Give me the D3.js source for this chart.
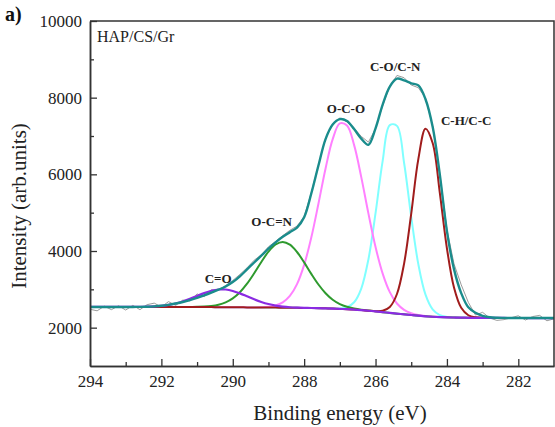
<!DOCTYPE html>
<html>
<head>
<meta charset="utf-8">
<script src="https://cdn.jsdelivr.net/npm/d3@7"></script>
<style>
  body { margin: 0; background: #fff; }
  svg { display: block; font-family: "Liberation Serif", "Times New Roman", serif; }
</style>
</head>
<body>
<svg></svg>
<script>
// binding energy grid (eV)
let energy = [294.0, 293.8, 293.6, 293.4, 293.2, 293.0, 292.8, 292.6, 292.4, 292.2,
  292.0, 291.8, 291.6, 291.4, 291.2, 291.0, 290.8, 290.6, 290.4, 290.2,
  290.0, 289.8, 289.6, 289.4, 289.2, 289.0, 288.8, 288.6, 288.4, 288.2,
  288.0, 287.8, 287.6, 287.4, 287.2, 287.0, 286.8, 286.6, 286.4, 286.2,
  286.0, 285.8, 285.6, 285.4, 285.2, 285.0, 284.8, 284.6, 284.4, 284.2,
  284.0, 283.8, 283.6, 283.4, 283.2, 283.0, 282.8, 282.6, 282.4, 282.2,
  282.0, 281.8, 281.6, 281.4, 281.2, 281.0];

// measured spectrum (grey)
let raw = [2480, 2440, 2560, 2470, 2570, 2460, 2580, 2470, 2600, 2640,
  2540, 2680, 2580, 2720, 2700, 2880, 2810, 2990, 2980, 3100,
  3230, 3390, 3560, 3760, 3900, 4110, 4250, 4400, 4540, 4650,
  4900, 5520, 6240, 6940, 7320, 7470, 7370, 7200, 6990, 6840,
  7190, 7800, 8300, 8580, 8520, 8330, 8260, 7990, 7260, 6020,
  4560, 3660, 3120, 2660, 2330, 2400, 2250, 2190, 2210, 2260,
  2310, 2200, 2290, 2320, 2180, 2230];

// fitted envelope (teal)
let envelope = [2540, 2540, 2540, 2540, 2540, 2540, 2541, 2543, 2547, 2555,
  2570, 2595, 2630, 2670, 2720, 2780, 2845, 2915, 2990, 3075,
  3190, 3340, 3520, 3700, 3880, 4060, 4225, 4370, 4490, 4610,
  4880, 5500, 6230, 6920, 7300, 7440, 7390, 7180, 6930, 6770,
  7200, 7820, 8290, 8495, 8450, 8375, 8320, 7960, 7240, 6000,
  4520, 3520, 2900, 2530, 2390, 2310, 2272, 2259, 2255, 2253,
  2252, 2252, 2252, 2252, 2252, 2252];

// background under the components
let background = [2540, 2540, 2540, 2540, 2540, 2540, 2540, 2540, 2540, 2540,
  2540, 2540, 2540, 2539, 2539, 2538, 2537, 2536, 2535, 2534,
  2532, 2530, 2529, 2527, 2526, 2525, 2523, 2521, 2519, 2517,
  2515, 2512, 2508, 2504, 2498, 2490, 2482, 2472, 2458, 2442,
  2425, 2405, 2385, 2365, 2348, 2330, 2312, 2297, 2285, 2276,
  2270, 2265, 2261, 2258, 2256, 2255, 2254, 2253, 2253, 2252,
  2252, 2252, 2251, 2251, 2250, 2250];

// component heights above background
let peakCO = [0, 0, 0, 0, 0, 0, 1, 3, 7, 14,
  29, 53, 91, 145, 213, 290, 365, 426, 461, 461,
  426, 365, 290, 213, 145, 91, 53, 29, 14, 7,
  3, 1, 0, 0, 0, 0, 0, 0, 0, 0,
  0, 0, 0, 0, 0, 0, 0, 0, 0, 0,
  0, 0, 0, 0, 0, 0, 0, 0, 0, 0,
  0, 0, 0, 0, 0, 0];

let peakOCN = [0, 0, 0, 0, 0, 0, 0, 0, 0, 0,
  0, 0, 0, 0, 2, 5, 12, 29, 63, 126,
  232, 395, 618, 892, 1188, 1457, 1646, 1715, 1646, 1457,
  1188, 892, 618, 395, 232, 126, 63, 29, 12, 5,
  2, 0, 0, 0, 0, 0, 0, 0, 0, 0,
  0, 0, 0, 0, 0, 0, 0, 0, 0, 0,
  0, 0, 0, 0, 0, 0];

let peakOCO = [0, 0, 0, 0, 0, 0, 0, 0, 0, 0,
  0, 0, 0, 0, 0, 0, 0, 0, 0, 0,
  0, 0, 0, 2, 7, 21, 57, 140, 309, 620,
  1123, 1840, 2725, 3650, 4421, 4841, 4792, 4290, 3470, 2540,
  1679, 1005, 542, 265, 118, 47, 17, 5, 2, 0,
  0, 0, 0, 0, 0, 0, 0, 0, 0, 0,
  0, 0, 0, 0, 0, 0];

let peakCOCN = [0, 0, 0, 0, 0, 0, 0, 0, 0, 0,
  0, 0, 0, 0, 0, 0, 0, 0, 0, 0,
  0, 0, 0, 0, 0, 0, 0, 0, 0, 0,
  0, 0, 0, 0, 2, 11, 52, 191, 563, 1338,
  2561, 3948, 4899, 4899, 3948, 2561, 1338, 563, 191, 52,
  11, 2, 0, 0, 0, 0, 0, 0, 0, 0,
  0, 0, 0, 0, 0, 0];

let peakCHCC = [0, 0, 0, 0, 0, 0, 0, 0, 0, 0,
  0, 0, 0, 0, 0, 0, 0, 0, 0, 0,
  0, 0, 0, 0, 0, 0, 0, 0, 0, 0,
  0, 0, 0, 0, 0, 0, 0, 0, 0, 1,
  6, 36, 154, 513, 1324, 2645, 4090, 4895, 4533, 3248,
  1801, 774, 256, 66, 13, 2, 0, 0, 0, 0,
  0, 0, 0, 0, 0, 0];

let xTicks = [294, 292, 290, 288, 286, 284, 282];
let xMinor = [293, 291, 289, 287, 285, 283];
let yTicks = [2000, 4000, 6000, 8000, 10000];
let yMinor = [3000, 5000, 7000, 9000];

let labels = [
  { text: 'C=O', e: 290.41, v: 3165 },
  { text: 'O-C=N', e: 288.91, v: 4640 },
  { text: 'O-C-O', e: 286.83, v: 7600 },
  { text: 'C-O/C-N', e: 285.45, v: 8685 },
  { text: 'C-H/C-C', e: 283.46, v: 7290 }
];

let width = 555;
let height = 427;
let plotLeft = 90, plotRight = 554, plotTop = 21, plotBottom = 366;

let svg = d3.select('svg').attr('width', width).attr('height', height);

let xScale = d3.scaleLinear().domain([294, 281]).range([plotLeft, plotRight]);
let yScale = d3.scaleLinear().domain([1000, 10000]).range([plotBottom, plotTop]);

svg.append('rect').attr('width', width).attr('height', height).attr('fill', '#fff');

svg.append('clipPath').attr('id', 'plot')
  .append('rect')
  .attr('x', plotLeft).attr('y', plotTop)
  .attr('width', plotRight - plotLeft).attr('height', plotBottom - plotTop);

let line = d3.line()
  .x((d, i) => xScale(energy[i]))
  .y((d) => yScale(d))
  .curve(d3.curveCatmullRom.alpha(0.5));

let withBackground = (peak) => peak.map((h, i) => background[i] + h);

let plot = svg.append('g').attr('clip-path', 'url(#plot)');

// raw data
plot.append('path')
  .datum(raw)
  .attr('d', d3.line().x((d, i) => xScale(energy[i])).y((d) => yScale(d)))
  .attr('fill', 'none')
  .attr('stroke', '#9a9a9a')
  .attr('stroke-width', 1);

let components = [
  { data: peakCOCN, color: '#80ffff', w: 2 },
  { data: peakOCO, color: '#ff80ff', w: 2 },
  { data: peakOCN, color: '#2e9a2e', w: 2 },
  { data: peakCHCC, color: '#a01c1c', w: 2 },
  { data: peakCO, color: '#8a2be2', w: 2.2 }
];

components.forEach((c) => {
  plot.append('path')
    .datum(withBackground(c.data))
    .attr('d', line)
    .attr('fill', 'none')
    .attr('stroke', c.color)
    .attr('stroke-width', c.w);
});

plot.append('path')
  .datum(envelope)
  .attr('d', line)
  .attr('fill', 'none')
  .attr('stroke', '#1a8c8c')
  .attr('stroke-width', 2.4);

// peak labels
svg.selectAll('.peak-label')
  .data(labels)
  .enter()
  .append('text')
  .attr('class', 'peak-label')
  .attr('x', (d) => xScale(d.e))
  .attr('y', (d) => yScale(d.v))
  .attr('text-anchor', 'middle')
  .attr('font-size', 13)
  .attr('font-weight', 'bold')
  .attr('fill', '#222')
  .text((d) => d.text);

// axes
let styleAxis = (g) => {
  g.select('.domain').attr('stroke', '#333').attr('stroke-width', 1.5);
  g.selectAll('.tick line').attr('stroke', '#333').attr('stroke-width', 1.3);
  g.selectAll('text').attr('font-family', '"Liberation Serif", serif').attr('font-size', 17).attr('fill', '#222');
};

svg.append('g')
  .attr('transform', 'translate(0,' + plotBottom + ')')
  .call(d3.axisBottom(xScale).tickValues(xTicks).tickSize(-7).tickSizeOuter(0).tickPadding(9).tickFormat(d3.format('d')))
  .call(styleAxis);

svg.append('g')
  .attr('transform', 'translate(0,' + plotBottom + ')')
  .call(d3.axisBottom(xScale).tickValues(xMinor).tickSize(-4).tickSizeOuter(0).tickFormat(''))
  .call(styleAxis);

svg.append('g')
  .attr('transform', 'translate(' + plotLeft + ',0)')
  .call(d3.axisLeft(yScale).tickValues(yTicks).tickSize(-7).tickSizeOuter(0).tickPadding(8).tickFormat(d3.format('d')))
  .call(styleAxis);

svg.append('g')
  .attr('transform', 'translate(' + plotLeft + ',0)')
  .call(d3.axisLeft(yScale).tickValues(yMinor).tickSize(-4).tickSizeOuter(0).tickFormat(''))
  .call(styleAxis);

// top and right frame
svg.append('path')
  .attr('d', 'M' + plotLeft + ',' + plotTop + 'H' + plotRight + 'V' + plotBottom)
  .attr('fill', 'none')
  .attr('stroke', '#333')
  .attr('stroke-width', 1.5);

// titles
svg.append('text')
  .attr('x', 340)
  .attr('y', 420)
  .attr('text-anchor', 'middle')
  .attr('font-size', 21)
  .attr('fill', '#222')
  .text('Binding energy (eV)');

svg.append('text')
  .attr('transform', 'translate(26,206) rotate(-90)')
  .attr('text-anchor', 'middle')
  .attr('font-size', 21)
  .attr('fill', '#222')
  .text('Intensity (arb.units)');

svg.append('text')
  .attr('x', 97)
  .attr('y', 42)
  .attr('font-size', 16)
  .attr('fill', '#222')
  .text('HAP/CS/Gr');

svg.append('text')
  .attr('x', 5)
  .attr('y', 21)
  .attr('font-size', 20)
  .attr('font-weight', 'bold')
  .attr('fill', '#111')
  .text('a)');
</script>
</body>
</html>
